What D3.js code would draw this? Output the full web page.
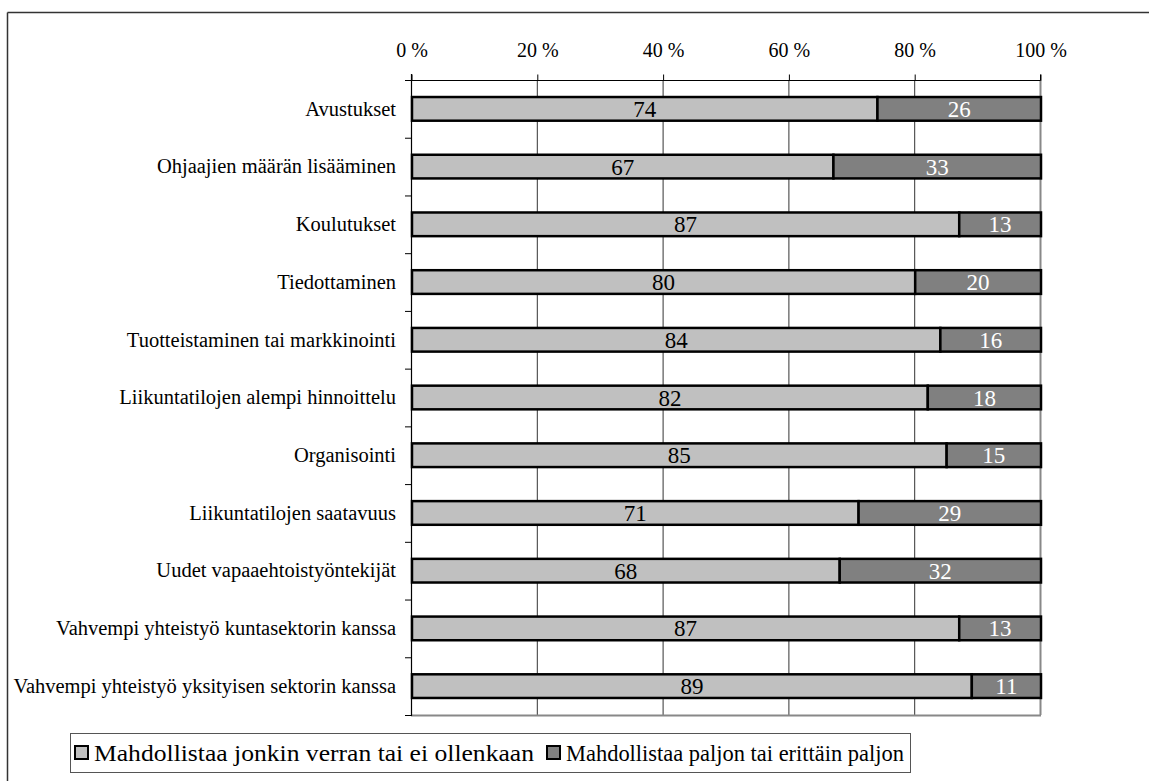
<!DOCTYPE html>
<html>
<head>
<meta charset="utf-8">
<script src="https://cdn.jsdelivr.net/npm/d3@7"></script>
<style>
  html, body { margin: 0; padding: 0; background: #fff; }
  svg { display: block; }
  text { font-family: "Liberation Serif", "Times New Roman", serif; }
</style>
</head>
<body>
<svg id="chart" width="1149" height="781"></svg>
<script>
// Categories (top to bottom) and the two stacked shares, in percent
const categories = [
  "Avustukset",
  "Ohjaajien määrän lisääminen",
  "Koulutukset",
  "Tiedottaminen",
  "Tuotteistaminen tai markkinointi",
  "Liikuntatilojen alempi hinnoittelu",
  "Organisointi",
  "Liikuntatilojen saatavuus",
  "Uudet vapaaehtoistyöntekijät",
  "Vahvempi yhteistyö kuntasektorin kanssa",
  "Vahvempi yhteistyö yksityisen sektorin kanssa"
];
const someOrNone = [74, 67, 87, 80, 84, 82, 85, 71, 68, 87, 89];
const muchOrVeryMuch = [26, 33, 13, 20, 16, 18, 15, 29, 32, 13, 11];
const seriesNames = [
  "Mahdollistaa jonkin verran tai ei ollenkaan",
  "Mahdollistaa paljon tai erittäin paljon"
];
const tickValues = [0, 20, 40, 60, 80, 100];
const tickLabels = ["0 %", "20 %", "40 %", "60 %", "80 %", "100 %"];

const colors = ["#c0c0c0", "#808080"];
const labelColors = ["#000", "#fff"];

const svg = d3.select("#chart");

// Outer frame (top and left edges)
svg.append("line").attr("x1", 7.5).attr("x2", 1149).attr("y1", 12.5).attr("y2", 12.5)
  .attr("stroke", "#333").attr("stroke-width", 1.5);
svg.append("line").attr("x1", 7.5).attr("x2", 7.5).attr("y1", 12.5).attr("y2", 781)
  .attr("stroke", "#333").attr("stroke-width", 1.5);

const plot = { left: 411, right: 1040, top: 80, bottom: 715 };

const x = d3.scaleLinear().domain([0, 100]).range([plot.left, plot.right]);
const y = d3.scaleBand().domain(categories).range([plot.top, plot.bottom]).paddingInner(0.59).paddingOuter(0.295);
const yBand = d3.scaleBand().domain(categories).range([plot.top, plot.bottom]);

// Vertical gridlines
svg.append("g").selectAll("line")
  .data(tickValues.slice(1, -1))
  .join("line")
  .attr("x1", d => x(d) + 0.5).attr("x2", d => x(d) + 0.5)
  .attr("y1", plot.top).attr("y2", plot.bottom)
  .attr("stroke", "#333").attr("stroke-width", 1);

// Plot area right and bottom edges (grey)
svg.append("line").attr("x1", x(100) + 0.5).attr("x2", x(100) + 0.5)
  .attr("y1", plot.top).attr("y2", plot.bottom)
  .attr("stroke", "#888").attr("stroke-width", 2);
svg.append("line").attr("x1", plot.left).attr("x2", plot.right + 1)
  .attr("y1", plot.bottom + 0.5).attr("y2", plot.bottom + 0.5)
  .attr("stroke", "#888").attr("stroke-width", 2);

// Top percent axis
const xAxis = d3.axisTop(x).tickValues(tickValues).tickFormat((d, i) => tickLabels[i]).tickSize(6).tickPadding(18);
const gx = svg.append("g").attr("transform", `translate(0.5,${plot.top + 0.5})`).call(xAxis);
gx.attr("font-family", null);
gx.select(".domain").attr("stroke", "#000").attr("d", `M${plot.left},-6V0H${plot.right}V-6`);
gx.selectAll(".tick line").attr("stroke", "#000");
gx.selectAll(".tick text").attr("font-size", 20).attr("fill", "#000");

// Left category axis: line with ticks at band boundaries
const gy = svg.append("g");
gy.append("line").attr("x1", plot.left + 0.5).attr("x2", plot.left + 0.5)
  .attr("y1", plot.top - 6).attr("y2", plot.bottom + 1)
  .attr("stroke", "#000").attr("stroke-width", 1.2);
const boundaries = categories.map(c => yBand(c)).concat([plot.bottom]);
gy.selectAll("line.tk").data(boundaries).join("line").attr("class", "tk")
  .attr("x1", plot.left - 6).attr("x2", plot.left)
  .attr("y1", d => d + 0.5).attr("y2", d => d + 0.5)
  .attr("stroke", "#000").attr("stroke-width", 1);
gy.selectAll("text").data(categories).join("text")
  .attr("x", plot.left - 15)
  .attr("y", d => yBand(d) + yBand.bandwidth() / 2)
  .attr("dy", "0.33em")
  .attr("text-anchor", "end")
  .attr("font-size", 20.5)
  .attr("fill", "#000")
  .text(d => d);

// Stacked bars
const rows = categories.map((c, i) => ({ cat: c, values: [someOrNone[i], muchOrVeryMuch[i]] }));
const segs = [];
rows.forEach(r => {
  let acc = 0;
  r.values.forEach((v, k) => { segs.push({ cat: r.cat, k, v, x0: acc, x1: acc + v }); acc += v; });
});

const bars = svg.append("g");
bars.selectAll("rect").data(segs).join("rect")
  .attr("x", d => x(d.x0) + 1)
  .attr("y", d => y(d.cat))
  .attr("width", d => x(d.x1) - x(d.x0))
  .attr("height", y.bandwidth())
  .attr("fill", d => colors[d.k])
  .attr("stroke", "#000")
  .attr("stroke-width", 2.5);

bars.selectAll("text").data(segs).join("text")
  .attr("x", d => (x(d.x0) + x(d.x1)) / 2 + 1)
  .attr("y", d => y(d.cat) + y.bandwidth() / 2)
  .attr("dy", "0.35em")
  .attr("text-anchor", "middle")
  .attr("font-size", 23)
  .attr("fill", d => labelColors[d.k])
  .text(d => d.v);

// Legend
const legend = svg.append("g");
legend.append("rect").attr("x", 70.5).attr("y", 733.5).attr("width", 840).attr("height", 39)
  .attr("fill", "#fff").attr("stroke", "#555").attr("stroke-width", 1);
const legendItems = [
  { x: 75, width: 440, name: seriesNames[0], color: colors[0] },
  { x: 547, width: 338, name: seriesNames[1], color: colors[1] }
];
legendItems.forEach(it => {
  legend.append("rect").attr("x", it.x).attr("y", 746).attr("width", 13).attr("height", 13)
    .attr("fill", it.color).attr("stroke", "#000").attr("stroke-width", 2);
  legend.append("text").attr("x", it.x + 19).attr("y", 753).attr("dy", "0.35em")
    .attr("font-size", 24).attr("fill", "#000")
    .attr("textLength", it.width).attr("lengthAdjust", "spacingAndGlyphs")
    .text(it.name);
});
</script>
</body>
</html>
